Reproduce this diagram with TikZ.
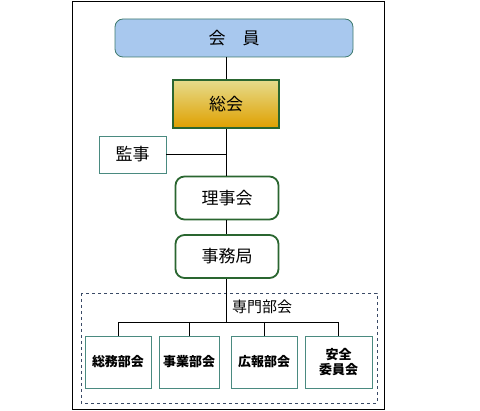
\documentclass[tikz,border=0pt]{standalone}
\usepackage{fontspec}
\setmainfont{Noto Sans CJK JP}
\definecolor{memberfill}{HTML}{A8C8EE}
\definecolor{memberline}{HTML}{3E7A6E}
\definecolor{boxgreen}{HTML}{2A6630}
\definecolor{boxteal}{HTML}{4A8A80}
\definecolor{dashblue}{HTML}{3A4A66}
\definecolor{gentop}{HTML}{E6DC8C}
\definecolor{genmid}{HTML}{E8DA30}
\definecolor{genbot}{HTML}{DFA000}
\begin{document}
\begin{tikzpicture}[x=1pt, y=-1pt, every node/.style={font=\fontsize{17}{19}\selectfont},
  member/.style={draw=memberline,thick,rounded corners=8pt,fill=memberfill,minimum width=238pt,minimum height=38pt,inner sep=0pt},
  general/.style={draw=boxgreen,line width=1.8pt,minimum width=106pt,minimum height=48pt,inner sep=0pt,
    top color=gentop,middle color=genmid,bottom color=genbot},
  auditor/.style={draw=boxteal,minimum width=67pt,minimum height=37pt,inner sep=0pt},
  board/.style={draw=boxgreen,line width=1.8pt,rounded corners=9pt,minimum width=103pt,minimum height=43pt,inner sep=0pt},
  section/.style={draw=boxteal,thick,minimum height=52pt,inner sep=0pt,align=center,font=\fontsize{13}{15}\selectfont\bfseries},
  link/.style={draw,thin}]
  \useasboundingbox (0,0) rectangle (480,411);
  % outer frame
  \draw[thin] (72,1) rectangle (384,409);
  % upper line
  \node[member]  (mem)  at (234,38)  {会　員};
  \node[general] (gen)  at (226,104) {総会};
  \node[auditor] (aud)  at (132.5,154.5) {監事};
  \node[board]   (bod)  at (227,198) {理事会};
  \node[board]   (sec)  at (227,256.5) {事務局};
  \coordinate (audj) at (226,154.5);
  \draw[link] (gen.north |- mem.south) -- (gen.north);
  \draw[link] (gen.south) -- (gen.south |- bod.north);
  \draw[link] (aud.east) -- (audj);
  \draw[link] (gen.south |- bod.south) -- (gen.south |- sec.north);
  % committees
  \draw[dashed,dashblue] (81,293) rectangle (377,403);
  \node[font=\fontsize{15}{17}\selectfont] (comlab) at (262,307) {専門部会};
  \node[section,minimum width=66pt] (c1) at (118,362)   {総務部会};
  \node[section,minimum width=60pt] (c2) at (189,362)   {事業部会};
  \node[section,minimum width=66pt] (c3) at (264,362)   {広報部会};
  \node[section,minimum width=67pt] (c4) at (338.5,362) {安全\\委員会};
  \coordinate (barj) at (226,322);
  \draw[link] (gen.south |- sec.south) -- (barj);
  \draw[link] (c1.north) -- (c1.north |- barj) -- (c4.north |- barj) -- (c4.north);
  \draw[link] (c2.north |- barj) -- (c2.north);
  \draw[link] (c3.north |- barj) -- (c3.north);
\end{tikzpicture}
\end{document}
